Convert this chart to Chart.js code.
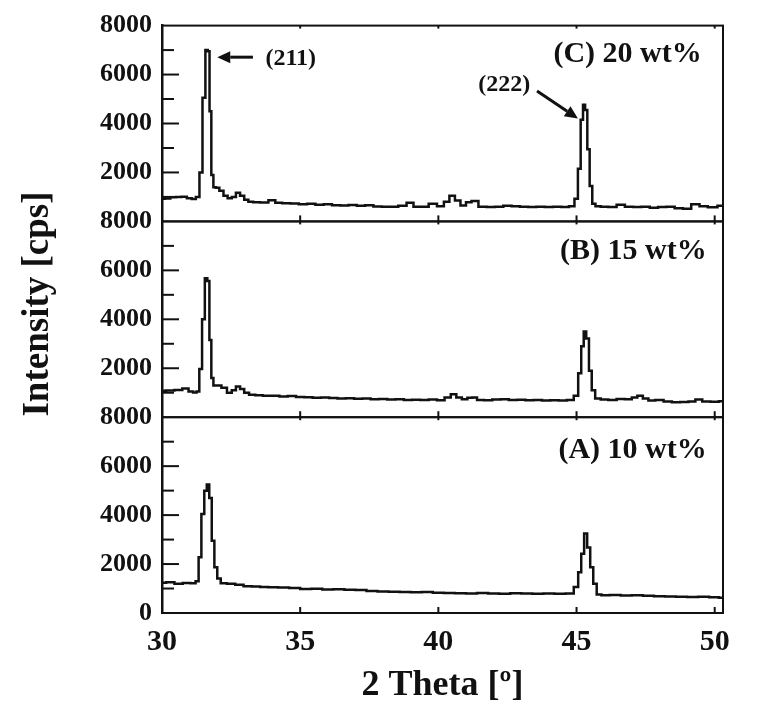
<!DOCTYPE html>
<html><head><meta charset="utf-8">
<script src="https://cdn.jsdelivr.net/npm/chart.js@4.4.1/dist/chart.umd.min.js"></script>
<style>html,body{margin:0;padding:0;background:#fff}#wrap{width:759px;height:715px;position:relative}</style>
</head><body><div id="wrap"><canvas id="c" width="759" height="715"></canvas></div>
<script>
// ---- data ----
const theta_C = [30.0,30.2,30.4,30.6,30.8,31.0,31.15,31.3,31.41,31.52,31.62,31.69,31.75,31.82,31.9,32.0,32.15,32.3,32.45,32.6,32.75,32.9,33.05,33.2,33.4,33.7,34.0,34.2,34.5,34.8,35.1,35.4,35.7,36.0,36.3,36.6,36.9,37.2,37.5,37.8,38.1,38.4,38.7,39.0,39.2,39.5,39.8,40.1,40.3,40.5,40.7,40.9,41.1,41.3,41.6,41.9,42.2,42.5,42.8,43.1,43.4,43.7,44.0,44.3,44.6,44.85,45.0,45.1,45.2,45.27,45.35,45.43,45.52,45.62,45.75,46.0,46.3,46.6,46.9,47.2,47.5,47.8,48.1,48.4,48.7,49.0,49.3,49.6,49.9,50.3];
const intensity_C = [930,940,990,1000,1010,950,920,1000,2000,5050,7000,6950,4500,1900,1400,1370,1250,1050,950,1000,1170,1050,880,800,780,770,860,760,740,730,700,720,680,700,660,650,670,640,660,610,600,600,640,760,600,600,720,620,800,1050,850,650,780,830,600,590,600,640,620,600,590,600,590,600,590,620,930,2150,4150,4770,4550,2950,1450,720,620,600,590,680,600,590,600,560,590,600,540,520,700,620,580,640];

const theta_B = [30.0,30.3,30.6,30.87,31.05,31.2,31.3,31.4,31.5,31.6,31.68,31.75,31.82,31.9,32.05,32.25,32.45,32.6,32.75,32.9,33.05,33.25,33.5,33.8,34.1,34.4,34.7,35.0,35.3,35.6,35.9,36.2,36.5,36.8,37.1,37.4,37.7,38.0,38.3,38.6,38.9,39.2,39.5,39.8,40.1,40.35,40.55,40.75,40.95,41.15,41.3,41.5,41.8,42.1,42.4,42.7,43.0,43.3,43.6,43.9,44.2,44.5,44.8,45.0,45.12,45.22,45.3,45.4,45.5,45.6,45.75,46.0,46.3,46.6,46.9,47.1,47.3,47.5,47.7,48.0,48.3,48.6,48.9,49.2,49.4,49.7,50.0,50.3];
const intensity_B = [1080,1090,1110,1170,1050,1010,1050,1970,4000,5680,5560,3150,1600,1300,1300,1200,1000,1100,1250,1150,1000,920,900,880,880,850,870,830,820,790,800,780,760,770,750,760,730,740,720,730,700,710,700,720,690,800,940,800,730,790,800,700,690,720,730,700,710,690,700,680,690,680,700,880,1800,2900,3500,3220,1900,1100,760,720,700,740,730,800,880,760,680,700,640,610,620,640,720,640,630,650];

const theta_A = [30.0,30.3,30.6,30.9,31.15,31.28,31.37,31.48,31.58,31.66,31.76,31.84,31.95,32.05,32.2,32.5,32.8,33.1,33.4,33.7,34.0,34.4,34.8,35.2,35.6,36.0,36.4,36.8,37.2,37.6,38.0,38.4,38.8,39.2,39.6,40.0,40.4,40.8,41.2,41.6,42.0,42.4,42.8,43.2,43.6,44.0,44.4,44.8,45.0,45.12,45.22,45.33,45.44,45.55,45.66,45.8,46.0,46.4,46.8,47.2,47.6,48.0,48.4,48.8,49.2,49.6,50.0,50.3];
const intensity_A = [1240,1260,1200,1230,1220,1300,2280,4040,5000,5250,4700,2950,1870,1410,1220,1200,1150,1090,1080,1060,1050,1040,1020,980,990,960,970,950,940,900,880,870,860,850,860,830,820,810,800,820,800,790,810,800,790,800,790,800,1060,1670,2420,3250,2680,1870,1200,760,730,740,720,730,700,680,670,660,650,660,640,620];

const xTickValues = [30, 35, 40, 45, 50];
const yTicksUpper = [2000, 4000, 6000, 8000];
const yTicksLowest = [0, 2000, 4000, 6000, 8000];
const panelLabels = { yA: '(A) 10 wt%', yB: '(B) 15 wt%', yC: '(C) 20 wt%' };
const peakLabels = ['(211)', '(222)'];
const xTitle = '2 Theta [º]';
const yTitle = 'Intensity [cps]';

// ---- chart ----
const FONT = '"Liberation Serif", "Times New Roman", serif';
const INK = '#111';
const toPts = (xs, ys) => xs.map((x, i) => ({ x: x, y: ys[i] }));

function yScale(ticks) {
  return {
    type: 'linear', position: 'left', stack: 'panels', stackWeight: 1,
    min: 0, max: 8000,
    afterBuildTicks: s => { s.ticks = ticks.map(v => ({ value: v })); },
    afterFit: s => { s.width = 162; },
    grid: { display: false, drawTicks: false },
    border: { display: true, color: INK, width: 2.5 },
    ticks: { autoSkip: false, padding: 10, color: INK, callback: v => String(v),
             font: { family: FONT, size: 26, weight: 'bold' } }
  };
}

const decor = {
  id: 'decor',
  afterDatasetsDraw(chart) {
    const ctx = chart.ctx, xs = chart.scales.x, area = chart.chartArea;
    ctx.save();
    ctx.strokeStyle = INK; ctx.fillStyle = INK; ctx.lineCap = 'butt';
    ['yA', 'yB', 'yC'].forEach(id => {
      const s = chart.scales[id];
      ctx.lineWidth = 2;
      ctx.strokeRect(area.left, s.top, area.right - area.left, s.bottom - s.top);
      for (let v = 1000; v < 8000; v += 1000) {
        const py = s.getPixelForValue(v);
        const len = (v % 2000 === 0) ? 17 : 12;
        ctx.beginPath(); ctx.moveTo(area.left, py); ctx.lineTo(area.left + len, py); ctx.stroke();
      }
      xTickValues.forEach(v => {
        if (v === 30) return;
        const px = xs.getPixelForValue(v);
        ctx.beginPath(); ctx.moveTo(px, s.bottom); ctx.lineTo(px, s.bottom - 6); ctx.stroke();
        ctx.beginPath(); ctx.moveTo(px, s.top); ctx.lineTo(px, s.top + 3); ctx.stroke();
      });
      ctx.font = 'bold 30px ' + FONT;
      ctx.textAlign = 'right'; ctx.textBaseline = 'middle';
      const lblX = id === 'yC' ? 49.53 : 49.71;
      const lblY = id === 'yC' ? 6830 : (id === 'yB' ? 6790 : 6670);
      ctx.fillText(panelLabels[id], xs.getPixelForValue(lblX), s.getPixelForValue(lblY));
    });

    const yc = chart.scales.yC;
    ctx.font = 'bold 24px ' + FONT;
    ctx.textAlign = 'center'; ctx.textBaseline = 'middle';
    ctx.fillText(peakLabels[0], xs.getPixelForValue(34.66), yc.getPixelForValue(6650));
    ctx.fillText(peakLabels[1], xs.getPixelForValue(42.38), yc.getPixelForValue(5600));
    function arrow(x0, y0, x1, y1) {
      const ax = xs.getPixelForValue(x0), ay = yc.getPixelForValue(y0);
      const bx = xs.getPixelForValue(x1), by = yc.getPixelForValue(y1);
      const ang = Math.atan2(by - ay, bx - ax), L = 13, W = 6;
      const hx = bx - L * Math.cos(ang), hy = by - L * Math.sin(ang);
      ctx.lineWidth = 3;
      ctx.beginPath(); ctx.moveTo(ax, ay); ctx.lineTo(hx, hy); ctx.stroke();
      ctx.beginPath();
      ctx.moveTo(bx, by);
      ctx.lineTo(hx + W * Math.sin(ang), hy - W * Math.cos(ang));
      ctx.lineTo(hx - W * Math.sin(ang), hy + W * Math.cos(ang));
      ctx.closePath(); ctx.fill();
    }
    arrow(33.29, 6710, 32.0, 6710);
    arrow(43.57, 5330, 45.05, 4200);

    ctx.font = 'bold 37px ' + FONT;
    ctx.translate(38, 304);
    ctx.rotate(-Math.PI / 2);
    ctx.textAlign = 'center'; ctx.textBaseline = 'middle';
    ctx.fillText(yTitle, 0, 0);
    ctx.restore();
  }
};

const lineStyle = { borderColor: INK, borderWidth: 2.5, pointRadius: 0, fill: false, stepped: 'middle', tension: 0 };

new Chart(document.getElementById('c'), {
  type: 'line',
  data: {
    datasets: [
      Object.assign({ label: '10 wt%', data: toPts(theta_A, intensity_A), yAxisID: 'yA' }, lineStyle),
      Object.assign({ label: '15 wt%', data: toPts(theta_B, intensity_B), yAxisID: 'yB' }, lineStyle),
      Object.assign({ label: '20 wt%', data: toPts(theta_C, intensity_C), yAxisID: 'yC' }, lineStyle)
    ]
  },
  options: {
    responsive: false, animation: false, devicePixelRatio: 1,
    layout: { padding: { top: 18, right: 36, left: 0, bottom: 0 } },
    plugins: { legend: { display: false }, tooltip: { enabled: false } },
    scales: {
      x: {
        type: 'linear', position: 'bottom', min: 30, max: 50.3,
        afterBuildTicks: s => { s.ticks = xTickValues.map(v => ({ value: v })); },
        afterFit: s => { s.height = 102; },
        grid: { display: false, drawTicks: false },
        border: { display: true, color: INK, width: 2 },
        ticks: { autoSkip: false, padding: 11, color: INK, maxRotation: 0, callback: v => String(v),
                 font: { family: FONT, size: 30, weight: 'bold' } },
        title: { display: true, text: xTitle, color: INK, padding: { top: 0, bottom: 8 },
                 font: { family: FONT, size: 36, weight: 'bold' } }
      },
      yA: yScale(yTicksLowest),
      yB: yScale(yTicksUpper),
      yC: yScale(yTicksUpper)
    }
  },
  plugins: [decor]
});
</script></body></html>
